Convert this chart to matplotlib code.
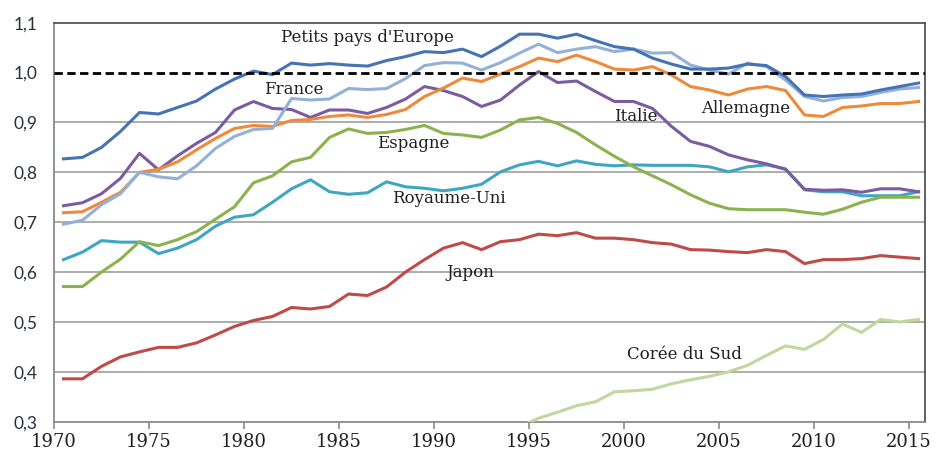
import numpy as np
import matplotlib
matplotlib.use("Agg")
import matplotlib.pyplot as plt

years = list(range(1970, 2016))

petits_pays = [0.827, 0.830, 0.850, 0.882, 0.920, 0.917, 0.930, 0.943, 0.967, 0.987,
               1.003, 0.996, 1.019, 1.015, 1.018, 1.015, 1.013, 1.024, 1.032, 1.042,
               1.040, 1.047, 1.032, 1.053, 1.077, 1.077, 1.069, 1.077, 1.064, 1.052,
               1.047, 1.029, 1.017, 1.007, 1.007, 1.009, 1.017, 1.014, 0.992, 0.955,
               0.952, 0.955, 0.957, 0.965, 0.972, 0.979]
allemagne = [0.696, 0.704, 0.735, 0.757, 0.800, 0.791, 0.787, 0.813, 0.848, 0.872,
             0.886, 0.888, 0.948, 0.945, 0.947, 0.968, 0.966, 0.968, 0.988, 1.014,
             1.020, 1.019, 1.005, 1.020, 1.039, 1.057, 1.040, 1.047, 1.052, 1.042,
             1.047, 1.039, 1.040, 1.015, 1.005, 0.997, 1.019, 1.012, 0.985, 0.952,
             0.943, 0.950, 0.952, 0.960, 0.967, 0.970]
france = [0.719, 0.721, 0.740, 0.760, 0.800, 0.806, 0.821, 0.845, 0.868, 0.888,
          0.894, 0.892, 0.904, 0.906, 0.912, 0.915, 0.910, 0.916, 0.926, 0.952,
          0.969, 0.989, 0.982, 0.997, 1.012, 1.029, 1.022, 1.035, 1.022, 1.007,
          1.005, 1.012, 0.995, 0.972, 0.965, 0.955, 0.967, 0.972, 0.964, 0.915,
          0.912, 0.930, 0.933, 0.938, 0.938, 0.942]
italie = [0.733, 0.739, 0.757, 0.788, 0.838, 0.805, 0.833, 0.858, 0.880, 0.925,
          0.942, 0.928, 0.926, 0.910, 0.925, 0.925, 0.918, 0.930, 0.947, 0.972,
          0.964, 0.952, 0.932, 0.945, 0.975, 1.002, 0.980, 0.983, 0.962, 0.942,
          0.942, 0.928, 0.892, 0.862, 0.852, 0.835, 0.825, 0.817, 0.806, 0.766,
          0.764, 0.765, 0.760, 0.767, 0.767, 0.761]
espagne = [0.571, 0.571, 0.600, 0.626, 0.661, 0.653, 0.665, 0.681, 0.706, 0.731,
           0.779, 0.793, 0.821, 0.830, 0.870, 0.887, 0.878, 0.880, 0.886, 0.894,
           0.878, 0.875, 0.870, 0.885, 0.905, 0.910, 0.898, 0.880, 0.855, 0.832,
           0.811, 0.793, 0.775, 0.755, 0.738, 0.727, 0.725, 0.725, 0.725, 0.720,
           0.716, 0.726, 0.740, 0.750, 0.750, 0.750]
royaume_uni = [0.625, 0.640, 0.663, 0.660, 0.660, 0.637, 0.648, 0.665, 0.692, 0.710,
               0.715, 0.740, 0.767, 0.785, 0.761, 0.756, 0.759, 0.781, 0.771, 0.768,
               0.763, 0.768, 0.776, 0.801, 0.815, 0.822, 0.813, 0.823, 0.816, 0.813,
               0.815, 0.814, 0.814, 0.814, 0.811, 0.801, 0.811, 0.815, 0.807, 0.765,
               0.761, 0.761, 0.753, 0.753, 0.753, 0.761]
japon = [0.386, 0.386, 0.411, 0.430, 0.440, 0.449, 0.449, 0.458, 0.474, 0.491,
         0.503, 0.511, 0.529, 0.526, 0.531, 0.556, 0.553, 0.570, 0.600, 0.625,
         0.648, 0.659, 0.645, 0.661, 0.665, 0.676, 0.673, 0.679, 0.668, 0.668,
         0.665, 0.659, 0.656, 0.645, 0.644, 0.641, 0.639, 0.645, 0.641, 0.617,
         0.625, 0.625, 0.627, 0.633, 0.630, 0.627]
coree_years = list(range(1994, 2016))
coree = [0.290, 0.307, 0.319, 0.332, 0.340, 0.360, 0.362, 0.365, 0.376, 0.384,
         0.391, 0.400, 0.413, 0.433, 0.452, 0.445, 0.465, 0.496, 0.479, 0.505,
         0.500, 0.505]

labels = ["Petits pays d'Europe", "France", "Espagne", "Royaume-Uni", "Japon",
          "Italie", "Allemagne", "Corée du Sud"]
label_pos = [(1986.5, 1.071), (1982.6, 0.967), (1988.9, 0.857), (1990.8, 0.748),
             (1991.9, 0.599), (2000.6, 0.912), (2006.4, 0.928), (2003.2, 0.434)]

xticks = list(range(1970, 2016, 5))
yticks = [0.3, 0.4, 0.5, 0.6, 0.7, 0.8, 0.9, 1.0, 1.1]
ytick_labels = ["0,3", "0,4", "0,5", "0,6", "0,7", "0,8", "0,9", "1,0", "1,1"]

fig = plt.figure(figsize=(9.38, 4.5), dpi=100)
ax = fig.add_axes([54/938, 1-421.7/450, (925-54)/938, (421.7-22.7)/450])

for yv in yticks[1:-1]:
    if abs(yv - 1.0) > 1e-9:
        ax.axhline(yv, color="#a6a6a6", lw=1.3, zorder=1)
ax.axhline(1.0, color="black", lw=2.0, ls=(0, (3, 1.6)), zorder=5)

x = np.array(years) + 0.5
xc = np.array(coree_years) + 0.5
lw = 2.2
series = [
    (royaume_uni, "#3ea6c2"),
    (espagne, "#8cb24f"),
    (japon, "#be4b48"),
    (italie, "#7b5ca0"),
    (france, "#ee8a3c"),
    (allemagne, "#93b0d8"),
    (petits_pays, "#4673b3"),
]
for vals, col in series:
    ax.plot(x, vals, color=col, lw=lw, zorder=3, solid_joinstyle="round")
ax.plot(xc, coree, color="#c0d79e", lw=lw, zorder=3)

for txt, (px, py) in zip(labels, label_pos):
    ax.text(px, py, txt, ha="center", va="center", fontsize=12,
            family="DejaVu Serif", color="#1e1e1e", zorder=6)

ax.set_xlim(1970, 2015.84)
ax.set_ylim(0.3, 1.1)
ax.set_xticks(xticks)
ax.set_xticklabels([str(t) for t in xticks], family="DejaVu Serif", fontsize=13,
                   color="#1e1e1e")
ax.set_yticks(yticks)
ax.set_yticklabels(ytick_labels, family="Lato", fontsize=12.5, color="#2a2e3e")
ax.tick_params(axis="x", direction="out", length=5, width=1.2, color="#8c8c8c", pad=3)
ax.tick_params(axis="y", direction="out", length=0, pad=12)
for s in ax.spines.values():
    s.set_color("#8a8a8a")
    s.set_linewidth(1.3)
ax.spines["top"].set_color("#555555")
ax.spines["right"].set_color("#555555")

fig.savefig("out.png", dpi=100)
